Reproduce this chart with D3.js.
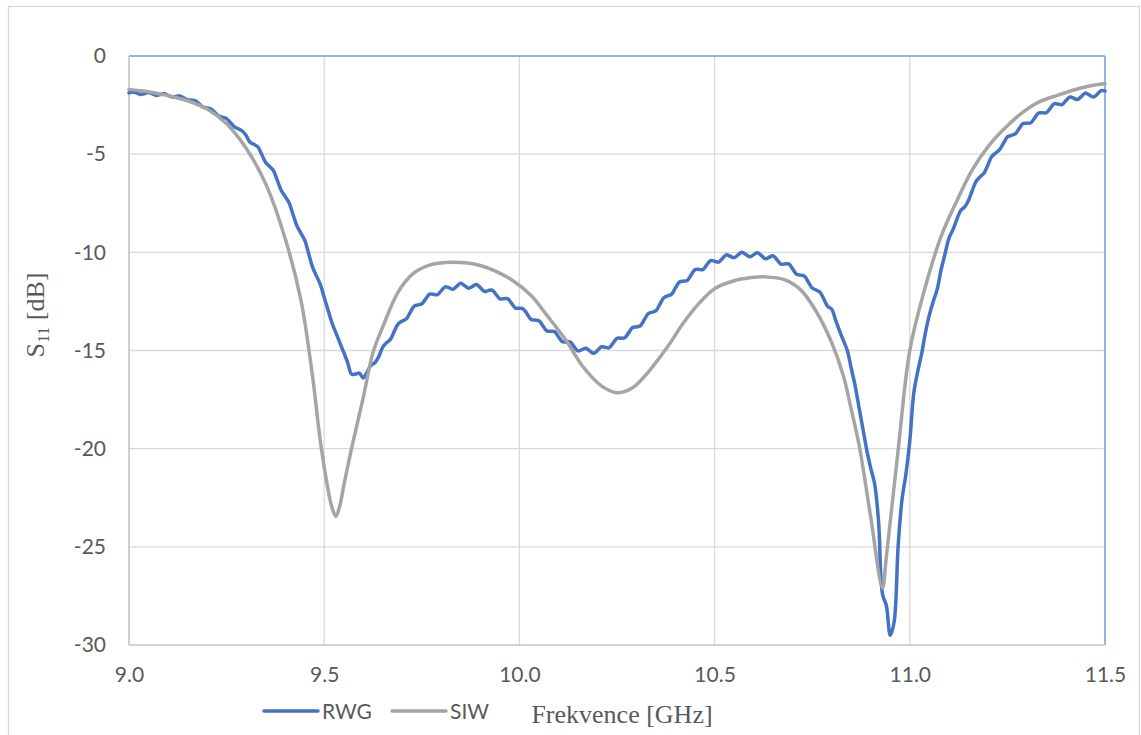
<!DOCTYPE html>
<html><head><meta charset="utf-8">
<script src="https://cdn.jsdelivr.net/npm/d3@7"></script>
<style>body{margin:0;background:#fff}svg{display:block}</style>
</head><body>
<svg id="c" width="1141" height="735"></svg>
<script>
// ---- data ----
const xTicks = [9.0, 9.5, 10.0, 10.5, 11.0, 11.5];
const yTicks = [0, -5, -10, -15, -20, -25, -30];
const seriesNames = ["RWG", "SIW"];
// RWG sampled from 9.00 GHz in 0.01 GHz steps
const rwgStart = 9.0, rwgStep = 0.01;
const rwgS11 = [
-1.88,-1.83,-1.89,-1.96,-1.91,-1.86,-1.93,-2.01,-1.96,-1.92,
-2.00,-2.09,-2.06,-2.03,-2.13,-2.23,-2.25,-2.28,-2.44,-2.60,
-2.65,-2.70,-2.88,-3.06,-3.12,-3.19,-3.40,-3.61,-3.71,-3.82,
-4.05,-4.39,-4.50,-4.63,-5.02,-5.42,-5.62,-5.84,-6.34,-6.85,
-7.15,-7.48,-8.06,-8.65,-9.01,-9.38,-10.05,-10.74,-11.20,-11.63,
-12.30,-12.95,-13.60,-14.10,-14.60,-15.10,-15.60,-16.20,-16.20,-16.15,
-16.40,-16.10,-15.75,-15.62,-15.30,-14.83,-14.60,-14.42,-14.00,-13.63,
-13.50,-13.40,-13.07,-12.75,-12.68,-12.62,-12.37,-12.13,-12.14,-12.16,
-11.95,-11.76,-11.81,-11.88,-11.72,-11.58,-11.70,-11.83,-11.73,-11.64,
-11.80,-11.99,-11.95,-11.92,-12.14,-12.37,-12.36,-12.36,-12.60,-12.84,
-12.85,-12.88,-13.15,-13.42,-13.45,-13.48,-13.74,-14.00,-14.02,-14.04,
-14.30,-14.55,-14.56,-14.56,-14.80,-15.02,-14.96,-14.88,-15.02,-15.14,
-15.00,-14.81,-14.84,-14.86,-14.62,-14.38,-14.37,-14.35,-14.09,-13.83,
-13.80,-13.74,-13.43,-13.12,-13.05,-12.97,-12.64,-12.31,-12.22,-12.13,
-11.80,-11.51,-11.47,-11.43,-11.15,-10.88,-10.87,-10.88,-10.64,-10.42,
-10.45,-10.50,-10.31,-10.13,-10.20,-10.27,-10.13,-10.00,-10.11,-10.23,
-10.12,-10.02,-10.17,-10.33,-10.25,-10.18,-10.38,-10.60,-10.59,-10.59,
-10.85,-11.12,-11.16,-11.21,-11.51,-11.82,-11.92,-12.03,-12.39,-12.76,
-12.90,-13.45,-14.00,-14.50,-15.00,-15.90,-16.80,-17.90,-19.00,-20.10,
-21.00,-21.80,-23.70,-27.40,-28.00,-29.50,-28.80,-25.00,-22.60,-21.30,
-19.60,-17.20,-16.10,-15.20,-14.10,-13.20,-12.50,-11.90,-10.90,-10.10,
-9.30,-8.87,-8.35,-7.88,-7.70,-7.37,-6.85,-6.38,-6.15,-5.97,
-5.55,-5.12,-4.94,-4.77,-4.44,-4.12,-4.04,-3.97,-3.70,-3.44,
-3.42,-3.40,-3.15,-2.90,-2.89,-2.89,-2.65,-2.43,-2.45,-2.48,
-2.27,-2.09,-2.15,-2.22,-2.05,-1.88,-1.99,-2.09,-1.95,-1.76,
-1.78
];
const siwFreq = [9.00,9.05,9.10,9.15,9.20,9.25,9.30,9.35,9.40,9.44,9.47,9.49,9.51,9.52,9.53,9.54,9.55,9.57,9.60,9.625,9.65,9.69,9.73,9.77,9.81,9.86,9.90,9.94,9.98,10.03,10.07,10.12,10.16,10.21,10.25,10.29,10.33,10.38,10.42,10.46,10.50,10.55,10.59,10.63,10.68,10.72,10.76,10.80,10.83,10.85,10.87,10.90,10.93,10.94,10.97,11.00,11.035,11.08,11.12,11.16,11.205,11.25,11.29,11.33,11.38,11.42,11.46,11.50];
const siwS11 = [-1.70,-1.82,-2.02,-2.28,-2.70,-3.45,-4.70,-6.50,-9.30,-12.4,-16.3,-19.6,-22.1,-23.0,-23.45,-22.9,-21.9,-20.0,-17.4,-15.1,-13.8,-12.0,-11.05,-10.65,-10.52,-10.53,-10.67,-10.97,-11.4,-12.2,-13.2,-14.5,-15.75,-16.8,-17.15,-16.9,-16.1,-14.8,-13.6,-12.6,-11.85,-11.45,-11.3,-11.25,-11.4,-11.9,-13.0,-14.6,-16.3,-18.0,-19.8,-23.5,-27.1,-25.5,-20.1,-15.0,-12.1,-9.2,-7.4,-5.8,-4.5,-3.55,-2.86,-2.35,-1.99,-1.73,-1.53,-1.40];
const seriesColors = ["#4472c4", "#a5a5a5"];

// ---- chart ----
const svg = d3.select("#c");
const L = 129, R = 1105, T = 56, B = 645;
const x = d3.scaleLinear().domain([9.0, 11.5]).range([L, R]);
const y = d3.scaleLinear().domain([-30, 0]).range([B, T]);

// outer frame
svg.append("rect").attr("x", 8.5).attr("y", 6.5).attr("width", 1131).attr("height", 760)
  .attr("fill", "none").attr("stroke", "#d9d9d9").attr("stroke-width", 1.3);

// gridlines
svg.append("g").selectAll("line").data(yTicks.filter(d => d !== 0 && d !== -30)).join("line")
  .attr("x1", L).attr("x2", R).attr("y1", d => y(d)).attr("y2", d => y(d))
  .attr("stroke", "#d9d9d9").attr("stroke-width", 1.3);
svg.append("g").selectAll("line").data(xTicks.filter(d => d !== 9.0 && d !== 11.5)).join("line")
  .attr("y1", T).attr("y2", B).attr("x1", d => x(d)).attr("x2", d => x(d))
  .attr("stroke", "#d9d9d9").attr("stroke-width", 1.3);

// plot borders
svg.append("line").attr("x1", L).attr("x2", R).attr("y1", T).attr("y2", T).attr("stroke", "#6a9fd4").attr("stroke-width", 1.5);
svg.append("line").attr("x1", R).attr("x2", R).attr("y1", T).attr("y2", B).attr("stroke", "#6a9fd4").attr("stroke-width", 1.5);
svg.append("line").attr("x1", L).attr("x2", R).attr("y1", B).attr("y2", B).attr("stroke", "#bfc3c8").attr("stroke-width", 1.5);
svg.append("line").attr("x1", L).attr("x2", L).attr("y1", T).attr("y2", B).attr("stroke", "#bfbfbf").attr("stroke-width", 1.5);

// axes (labels only)
const yAxis = d3.axisLeft(y).tickValues(yTicks).tickFormat(d => String(d)).tickSize(0).tickPadding(23);
const gy = svg.append("g").attr("transform", `translate(${L},0)`).call(yAxis);
gy.select(".domain").remove();
gy.selectAll("text").attr("font-family", "Lato, 'Open Sans', sans-serif").attr("font-size", 21).attr("fill", "#595959");

const xAxis = d3.axisBottom(x).tickValues(xTicks).tickFormat(d => d.toFixed(1)).tickSize(0).tickPadding(22);
const gx = svg.append("g").attr("transform", `translate(0,${B})`).call(xAxis);
gx.select(".domain").remove();
gx.selectAll("text").attr("font-family", "Lato, 'Open Sans', sans-serif").attr("font-size", 21).attr("fill", "#595959");

// lines
const line = d3.line().x(d => x(d[0])).y(d => y(d[1])).curve(d3.curveCatmullRom.alpha(0.5));
const rwgData = rwgS11.map((v, i) => [rwgStart + i * rwgStep, v]);
const siwData = siwFreq.map((f, i) => [f, siwS11[i]]);
svg.append("path").datum(rwgData).attr("d", line).attr("fill", "none")
  .attr("stroke", seriesColors[0]).attr("stroke-width", 3.5).attr("stroke-linejoin", "round").attr("stroke-linecap", "round");
svg.append("path").datum(siwData).attr("d", line).attr("fill", "none")
  .attr("stroke", seriesColors[1]).attr("stroke-width", 3.5).attr("stroke-linejoin", "round").attr("stroke-linecap", "round");

// axis titles
const yt = svg.append("text").attr("transform", "translate(44,315) rotate(-90)")
  .attr("text-anchor", "middle").attr("font-family", "'Liberation Serif', 'Times New Roman', serif")
  .attr("font-size", 26).attr("fill", "#595959");
yt.append("tspan").text("S");
yt.append("tspan").attr("font-size", 17).attr("dy", 5).text("11");
yt.append("tspan").attr("dy", -5).text(" [dB]");

svg.append("text").attr("x", 622).attr("y", 723).attr("text-anchor", "middle")
  .attr("font-family", "'Liberation Serif', 'Times New Roman', serif").attr("font-size", 26)
  .attr("fill", "#595959").text("Frekvence [GHz]");

// legend
const legX = [264, 392];
const lg = svg.append("g").selectAll("g").data(seriesNames).join("g")
  .attr("transform", (d, i) => `translate(${legX[i]},711)`);
lg.append("line").attr("x1", 0).attr("x2", 54).attr("y1", 0).attr("y2", 0)
  .attr("stroke", (d, i) => seriesColors[i]).attr("stroke-width", 3.5).attr("stroke-linecap", "round");
lg.append("text").attr("x", 58).attr("y", 8).attr("font-family", "Lato, 'Open Sans', sans-serif")
  .attr("font-size", 21).attr("fill", "#595959").text(d => d);
</script>
</body></html>
